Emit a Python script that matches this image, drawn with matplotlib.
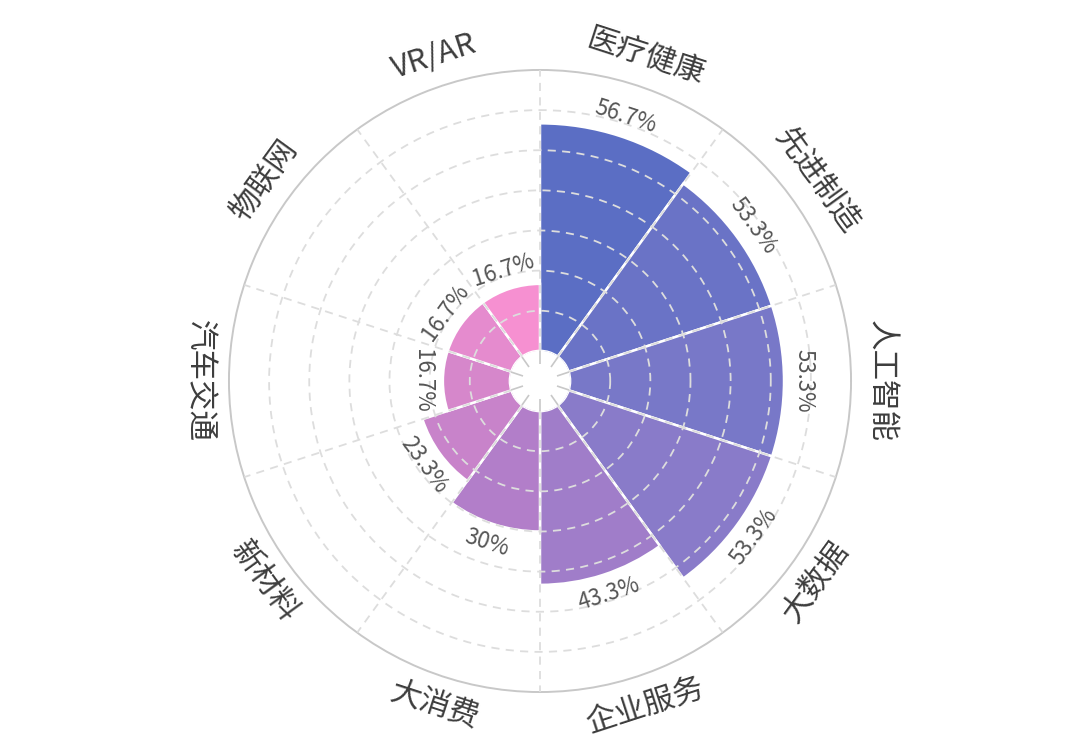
import numpy as np
import matplotlib
matplotlib.use("Agg")
import matplotlib.pyplot as plt

plt.rcParams['font.family'] = ['Noto Sans CJK SC', 'DejaVu Sans']

# data, clockwise from the top
categories = ['医疗健康', '先进制造', '人工智能', '大数据', '企业服务',
              '大消费', '新材料', '汽车交通', '物联网', 'VR/AR']
values = [56.7, 53.3, 53.3, 53.3, 43.3, 30, 23.3, 16.7, 16.7, 16.7]
labels = ['56.7%', '53.3%', '53.3%', '53.3%', '43.3%',
          '30%', '23.3%', '16.7%', '16.7%', '16.7%']
colors = ['#5b6ec4', '#6a73c6', '#7878c8', '#897bc9', '#a07dc9',
          '#b27ec9', '#c883ca', '#d687cb', '#e58bce', '#f690d1']

n = len(categories)
step = 360 / n
# angles in degrees, wrapped into (-180, 180]
centers = np.array([((90 - step / 2 - step * i + 180) % 360) - 180 for i in range(n)])
bounds = np.array([(90 - step * i) % 360 for i in range(n)])

fig = plt.figure(figsize=(10.8, 7.45), dpi=100)
ax = fig.add_axes([0.212, 0.0711, 0.576, 0.835], projection='polar')
ax.patch.set_edgecolor('none')

ax.bar(np.deg2rad(centers), values, width=np.deg2rad(step), bottom=0,
       color=colors, edgecolor='white', linewidth=1.8, zorder=2)

ax.set_xticks(np.deg2rad(bounds))
ax.set_xticklabels([])
ax.set_xlim(0, 2 * np.pi)
ax.set_ylim(0, 70)
ax.set_rorigin(-7.5)
ax.set_yticks([10, 20, 30, 40, 50, 60])
ax.set_yticklabels([])
ax.set_axisbelow(False)
ax.grid(True, linestyle=(0, (4.5, 3.5)), color='#dddddd', linewidth=1.3)
ax.tick_params(axis='x', direction='out', length=9, width=1.2, colors='#c8c8c8',
               tick1On=True, tick2On=False)
ax.tick_params(axis='y', length=0)
# matplotlib turns the inner spine back on at draw time, so make it invisible by colour
ax.spines['inner'].set_color('none')
ax.spines['polar'].set_color('#c8c8c8')
ax.spines['polar'].set_linewidth(1.4)


def tangent_rot(deg):
    rot = deg - 90
    if rot < -90:
        rot += 180
    return rot


for c, name in zip(centers, categories):
    ax.text(np.deg2rad(c), 77.5, name, rotation=tangent_rot(c), rotation_mode='anchor',
            ha='center', va='center', fontsize=22, color='#3d3d3d')

for c, v, lab in zip(centers, values, labels):
    ax.text(np.deg2rad(c), v + 5, lab, rotation=tangent_rot(c), rotation_mode='anchor',
            ha='center', va='center', fontsize=16, color='#555555')

fig.savefig('out.png', dpi=100)
